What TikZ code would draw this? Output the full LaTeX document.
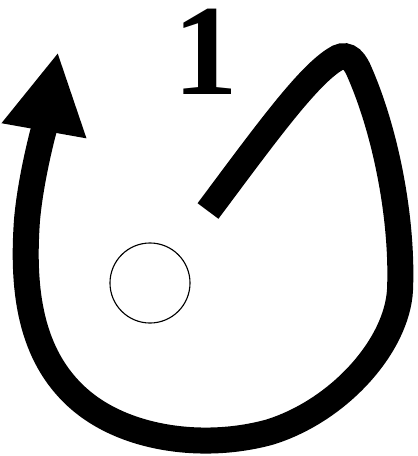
\documentclass[tikz,border=0pt]{standalone}
\usepackage{fontspec}
\setmainfont{Liberation Serif}
\usetikzlibrary{arrows.meta}
\tikzset{
  loopline/.style={line width=0.65cm, line cap=butt, -{Triangle[length=2cm, width=2cm]}},
  holecircle/.style={circle, draw, line width=0.8pt, minimum size=2cm, inner sep=0pt},
  numlabel/.style={font=\fontsize{92}{92}\selectfont\bfseries, inner sep=0pt, anchor=base}
}

\begin{document}
\begin{tikzpicture}[x=0.025cm, y=-0.025cm]
    \useasboundingbox (0,0) rectangle (417,456);
    % rotation path, ending in the arrow head
    \draw[loopline] (208,211) .. controls (264,136) and (306,78) .. (334,60)
        .. controls (345,52) and (353,57) .. (359,71)
        .. controls (386,132) and (403,220) .. (400,290)
        .. controls (397,345) and (340,410) .. (270,432)
        .. controls (205,450) and (125,440) .. (78,398)
        .. controls (30,355) and (22,290) .. (27,220)
        .. controls (31,175) and (45,125) .. (58,52);
    \node[holecircle] (hole) at (150,283) {};
    \node[numlabel] (num) at (206,94) {1};
\end{tikzpicture}
\end{document}
